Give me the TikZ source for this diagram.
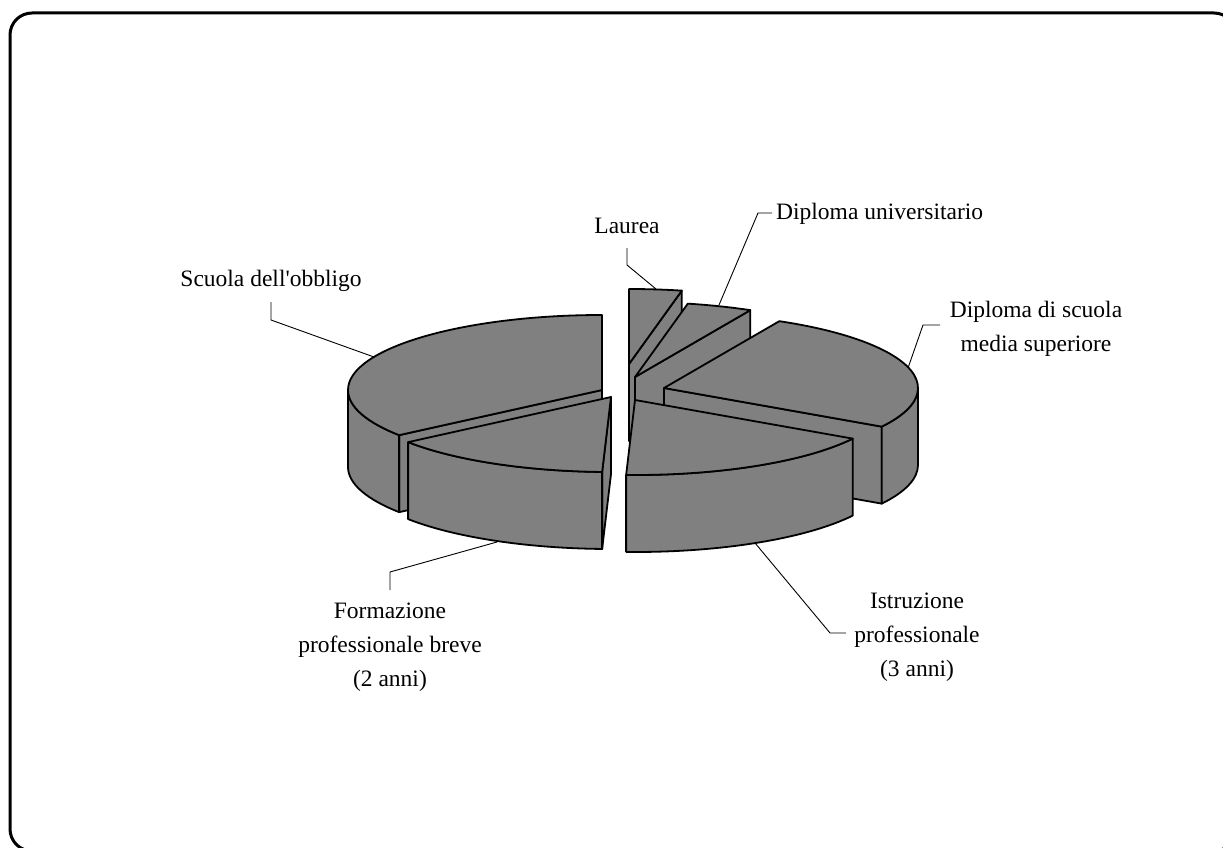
\documentclass[tikz,border=0pt]{standalone}
\usepackage{fontspec}
\setmainfont{Liberation Serif}
\usepackage{tikz}
\usetikzlibrary{calc}

\definecolor{piegray}{RGB}{128,128,128}
\tikzset{
	piece/.style={fill=piegray, draw=black, line width=1.8pt, line join=round},
	leader/.style={draw=black, line width=0.9pt},
	lbl/.style={inner sep=0pt, align=center, font=\fontsize{23.5}{34}\selectfont}
}
% one slice of the pie: apex x, apex y, angle(s)
\newcommand{\pieside}[3]{\draw[piece] (#1,#2) -- ++(#3:254pt and 75pt) -- ++(0,-77) -- ++({#3+180}:254pt and 75pt) -- cycle;}
\newcommand{\piewall}[4]{\draw[piece] (#1,#2) ++(#3:254pt and 75pt) arc[start angle=#3, end angle=#4, x radius=254pt, y radius=75pt] -- ++(0,-77) arc[start angle=#4, end angle=#3, x radius=254pt, y radius=75pt] -- cycle;}
\newcommand{\pietop}[4]{\draw[piece] (#1,#2) -- ++(#3:254pt and 75pt) arc[start angle=#3, end angle=#4, x radius=254pt, y radius=75pt] -- cycle;}

\begin{document}
\begin{tikzpicture}[x=1pt, y=1pt]
			\useasboundingbox (0,0) rectangle (1223,-848);
			\clip (0,0) rectangle (1223,-848);
			\draw[line width=3pt, rounded corners=22pt] (10,-13) rectangle (1236,-851);

			% back slices
			\pieside{629}{-364}{78}
			\pietop{629}{-364}{78}{90}
			\pieside{635}{-377}{63}
			\pietop{635}{-377}{63}{78}
			\pieside{664}{-388}{-31}
			\piewall{664}{-388}{-31}{0}
			\pietop{664}{-388}{-31}{63}
			\pieside{602}{-390}{217}
			\piewall{602}{-390}{180}{217}
			\pietop{602}{-390}{90}{217}
			% front slices
			\piewall{635}{-400}{268}{329}
			\pietop{635}{-400}{268}{329}
			\pieside{611}{-397}{268}
			\piewall{611}{-397}{217}{268}
			\pietop{611}{-397}{217}{268}

			% labels
			\node[lbl] (laurea) at (627,-226) {Laurea};
			\node[lbl, anchor=west] (dipuni) at (776,-214) {Diploma universitario};
			\node[lbl] (dipsup) at (1036,-329) {Diploma di scuola\\media superiore};
			\node[lbl] (obbligo) at (271,-281) {Scuola dell\textquotesingle obbligo};
			\node[lbl] (formaz) at (390,-647) {Formazione\\professionale breve\\(2 anni)};
			\node[lbl] (istruz) at (917,-637) {Istruzione\\professionale\\(3 anni)};

			% leader lines
			\coordinate (laureaA) at (627,-248);
			\coordinate (laureaB) at (627,-265);
			\coordinate (laureaC) at (656,-289);
			\coordinate (dipuniA) at (772,-213);
			\coordinate (dipuniB) at (758,-213);
			\coordinate (dipuniC) at (719,-305);
			\coordinate (dipsupA) at (940,-325);
			\coordinate (dipsupB) at (923,-325);
			\coordinate (dipsupC) at (908,-368);
			\coordinate (obbligoA) at (271,-302);
			\coordinate (obbligoB) at (271,-320);
			\coordinate (obbligoC) at (374,-357);
			\coordinate (formazA) at (390,-590);
			\coordinate (formazB) at (390,-572);
			\coordinate (formazC) at (497,-542);
			\coordinate (istruzA) at (846,-633);
			\coordinate (istruzB) at (830,-633);
			\coordinate (istruzC) at (755,-543);
			\draw[leader] (laureaA) -- (laureaB) -- (laureaC);
			\draw[leader] (dipuniA) -- (dipuniB) -- (dipuniC);
			\draw[leader] (dipsupA) -- (dipsupB) -- (dipsupC);
			\draw[leader] (obbligoA) -- (obbligoB) -- (obbligoC);
			\draw[leader] (formazA) -- (formazB) -- (formazC);
			\draw[leader] (istruzA) -- (istruzB) -- (istruzC);
\end{tikzpicture}
\end{document}
